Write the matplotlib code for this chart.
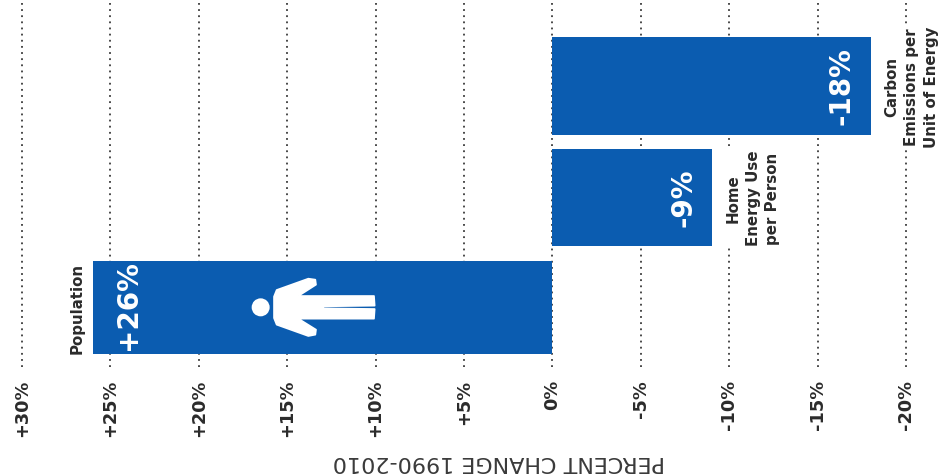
import matplotlib
matplotlib.use('Agg')
import matplotlib.pyplot as plt
from matplotlib.patches import Circle, Polygon

categories = ['Carbon\nEmissions per\nUnit of Energy', 'Home\nEnergy Use\nper Person', 'Population']
values = [-18, -9, 26]
value_labels = ['-18%', '-9%', '+26%']
ticks = [30, 25, 20, 15, 10, 5, 0, -5, -10, -15, -20]
tick_labels = ['+30%', '+25%', '+20%', '+15%', '+10%', '+5%', '0%', '-5%', '-10%', '-15%', '-20%']
axis_title = 'PERCENT CHANGE 1990-2010'
blue = '#0b5cb0'
dark = '#2b2b2b'

plt.rcParams['font.family'] = ['DejaVu Sans']
fig = plt.figure(figsize=(9.4, 4.77), dpi=100)
ax = fig.add_axes([0, 0, 1, 1])
ax.set_xlim(31.24, -21.92)
ax.set_ylim(477, 0)
ax.axis('off')

for t, lab in zip(ticks, tick_labels):
    ax.plot([t, t], [4, 372], color='#3a3a3a', lw=1.3, ls=(0, (1, 2.4)), zorder=1)
    ax.text(t, 380, lab, rotation=90, ha='center', va='top', fontsize=12.8, fontweight='bold', color=dark)

centers = [87, 198.5, 308.5]
heights = [98, 97, 93]
value_shift = [1.65, 1.6, -2.0]
value_nudge = [0, 0, -2]
label_shift = [-2.3, -2.35, 0.87]
for cat, v, lab, c, h, vs, vn, ls_ in zip(categories, values, value_labels, centers, heights,
                                          value_shift, value_nudge, label_shift):
    ax.barh(c, v, height=h, color=blue, zorder=2)
    ax.text(v + vs, c - 1 + vn, lab, rotation=90, ha='center', va='center', fontsize=20,
            fontweight='bold', color='white', zorder=3)
    ax.text(v + ls_, c, cat, rotation=90, ha='center', va='center', fontsize=10.8,
            fontweight='bold', color=dark, linespacing=1.4, multialignment='center', zorder=3,
            bbox=dict(facecolor='white', edgecolor='none', pad=0.5))

ax.text(3.05, 462, axis_title, rotation=180, ha='center', va='center', fontsize=16, color='#3a3a3a')

# person icon on a pixel-space overlay
ov = fig.add_axes([0, 0, 1, 1])
ov.set_xlim(0, 940)
ov.set_ylim(477, 0)
ov.axis('off')
ov.patch.set_alpha(0)
def P(px, py):
    return (230 + px / 3, 265 + py / 3)
ov.add_patch(Circle(P(92, 130), 9, color='white', lw=0))
body = [(132, 98), (140, 78), (235, 44), (256, 47), (258, 62), (205, 96), (432, 96), (434, 125),
        (280, 127), (280, 133), (434, 135), (432, 164), (205, 164), (258, 197), (256, 212),
        (235, 216), (140, 182), (132, 162)]
ov.add_patch(Polygon([P(*p) for p in body], closed=True, facecolor='white', edgecolor='white',
                     lw=1.2, joinstyle='round'))
fig.savefig('out.png', dpi=100)
